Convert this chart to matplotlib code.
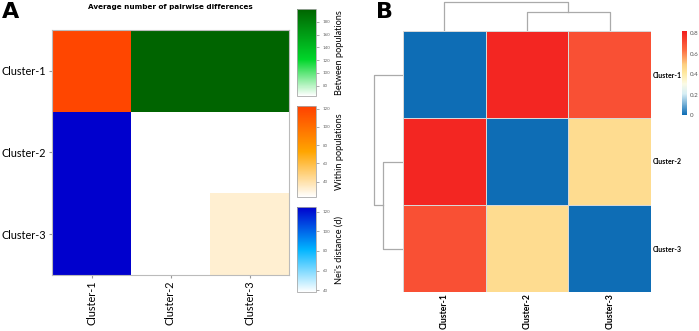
import numpy as np
import matplotlib
matplotlib.use("Agg")
import matplotlib.pyplot as plt
from matplotlib.colors import LinearSegmentedColormap, Normalize
import matplotlib.cm as cm

plt.rcParams['font.family'] = ['Lato', 'DejaVu Sans']

clusters = ["Cluster-1", "Cluster-2", "Cluster-3"]

# Panel A values (Arlequin-style matrix)
within_vals = [120, 23, 32]                 # diagonal
between_vals = {(0, 1): 200, (0, 2): 200, (1, 2): 64}   # upper triangle
nei_vals = {(1, 0): 125, (2, 0): 125, (2, 1): 38}       # lower triangle
between_range = (64, 200)
within_range = (23, 123)
nei_range = (38, 125)
between_ticks = [80, 100, 120, 140, 160, 180]
within_ticks = [40, 60, 80, 100, 120]
nei_ticks = [40, 60, 80, 100, 120]

# Panel B values
fst = [[0.0, 0.80, 0.70],
       [0.80, 0.0, 0.45],
       [0.70, 0.45, 0.0]]
fst_ticks = [0, 0.2, 0.4, 0.6, 0.8]
# dendrogram merges: (left, right, height)
merge_cols = [(1, 2, 19), (0, "m", 29)]
merge_rows = [(1, 2, 20), (0, "m", 29)]

W, H = 699, 331
fig = plt.figure(figsize=(W / 100, H / 100), dpi=100)

def ax_px(x0, y0, x1, y1):
    return fig.add_axes([x0 / W, 1 - y1 / H, (x1 - x0) / W, (y1 - y0) / H])

cmap_g = LinearSegmentedColormap.from_list("g", [(0, "#FFFFFF"), (0.42, "#00D62A"), (1, "#006400")])
cmap_o = LinearSegmentedColormap.from_list("o", [(0, "#FFFFFF"), (0.5, "#FFA500"), (1, "#FF4000")])
cmap_b = LinearSegmentedColormap.from_list("b", [(0, "#FFFFFF"), (0.5, "#00B4FF"), (1, "#0000CD")])
ng = Normalize(*between_range)
no = Normalize(*within_range)
nb = Normalize(*nei_range)

# ---------------- Panel A ----------------
axA = ax_px(52, 30, 289, 275)
n = len(clusters)
for i in range(n):
    for j in range(n):
        if i == j:
            c = cmap_o(no(within_vals[i]))
        elif j > i:
            c = cmap_g(ng(between_vals[(i, j)]))
        else:
            c = cmap_b(nb(nei_vals[(i, j)]))
        axA.add_patch(plt.Rectangle((j, i), 1, 1, facecolor=c, edgecolor='none'))
axA.set_xlim(0, n)
axA.set_ylim(n, 0)
axA.set_xticks(np.arange(n) + 0.5)
axA.set_yticks(np.arange(n) + 0.5)
axA.set_xticklabels(clusters, rotation=90, fontsize=7.8)
axA.set_yticklabels(clusters, fontsize=7.8)
axA.tick_params(length=2, color='#999999', pad=2)
for s in axA.spines.values():
    s.set_color('#BBBBBB')
    s.set_linewidth(0.8)
fig.text(170 / W, 1 - 7 / H, "Average number of pairwise differences", ha='center', va='center',
         fontsize=5.2, fontweight='bold', family=['DejaVu Sans'])
fig.text(2 / W, 1 - 12 / H, "A", fontsize=16, fontweight='bold', va='center', family=['DejaVu Sans'])

def colorbar(y0, y1, cmap, norm, ticks, label):
    cax = ax_px(297, y0, 316, y1)
    cb = fig.colorbar(cm.ScalarMappable(norm=norm, cmap=cmap), cax=cax)
    cb.set_ticks(ticks)
    cb.ax.tick_params(labelsize=3.2, length=2, width=0.5, color='#888888', labelcolor='#666666', pad=3)
    cb.outline.set_edgecolor('#AAAAAA')
    cb.outline.set_linewidth(0.6)
    cb.set_label(label, fontsize=6.6, labelpad=3)

colorbar(9, 96, cmap_g, ng, between_ticks, "Between populations")
colorbar(106, 197, cmap_o, no, within_ticks, "Within populations")
colorbar(207, 292, cmap_b, nb, nei_ticks, "Nei's distance (d)")

# ---------------- Panel B ----------------
cmap_r = LinearSegmentedColormap.from_list("r", [(0, "#0E6DB5"), (0.25, "#D6EEF5"), (0.37, "#FBFBE6"),
                                                 (0.5, "#FEE9A0"), (0.6, "#FDCF80"), (0.78, "#FD6A40"), (1, "#F21E1E")])
nr = Normalize(0, 0.82)
axB = ax_px(403, 31, 651, 292)
axB.pcolormesh(np.array(fst), cmap=cmap_r, norm=nr, edgecolors='#D8D8D8', linewidth=0.4)
axB.set_xlim(0, n)
axB.set_ylim(n, 0)
axB.set_xticks(np.arange(n) + 0.5)
axB.set_xticklabels(clusters, rotation=90, fontsize=6.2, fontweight='bold')
axB.yaxis.tick_right()
axB.set_yticks(np.arange(n) + 0.5)
axB.set_yticklabels(clusters, fontsize=5.0, fontweight='bold')
axB.tick_params(length=0, pad=1)
for s in axB.spines.values():
    s.set_visible(False)
fig.text(376 / W, 1 - 12 / H, "B", fontsize=16, fontweight='bold', va='center', family=['DejaVu Sans'])

# dendrograms
def draw_dendro(ax, merges, orient):
    pos = {0: 0.5, 1: 1.5, 2: 2.5}
    hts = {0: 0, 1: 0, 2: 0}
    for a, b, h in merges:
        xa, xb = pos[a], pos[b]
        ha, hb = hts[a], hts[b]
        if orient == 'top':
            ax.plot([xa, xa, xb, xb], [ha, h, h, hb], color='#AAAAAA', lw=0.9)
        else:
            ax.plot([ha, h, h, hb], [xa, xa, xb, xb], color='#AAAAAA', lw=0.9)
        pos["m"] = (xa + xb) / 2
        hts["m"] = h
    ax.axis('off')

axT = ax_px(403, 0, 651, 31)
draw_dendro(axT, merge_cols, 'top')
axT.set_xlim(0, n)
axT.set_ylim(0, 31)

axL = ax_px(366, 31, 403, 292)
draw_dendro(axL, merge_rows, 'left')
axL.set_ylim(n, 0)
axL.set_xlim(37, 0)

cax = ax_px(682, 31, 687, 115)
cb = fig.colorbar(cm.ScalarMappable(norm=nr, cmap=cmap_r), cax=cax)
cb.set_ticks(fst_ticks)
cb.set_ticklabels(["0", "0.2", "0.4", "0.6", "0.8"])
cb.ax.tick_params(labelsize=4.5, length=0, labelcolor='#555555', pad=2)
cb.outline.set_visible(False)

fig.savefig("out.png", dpi=100)
